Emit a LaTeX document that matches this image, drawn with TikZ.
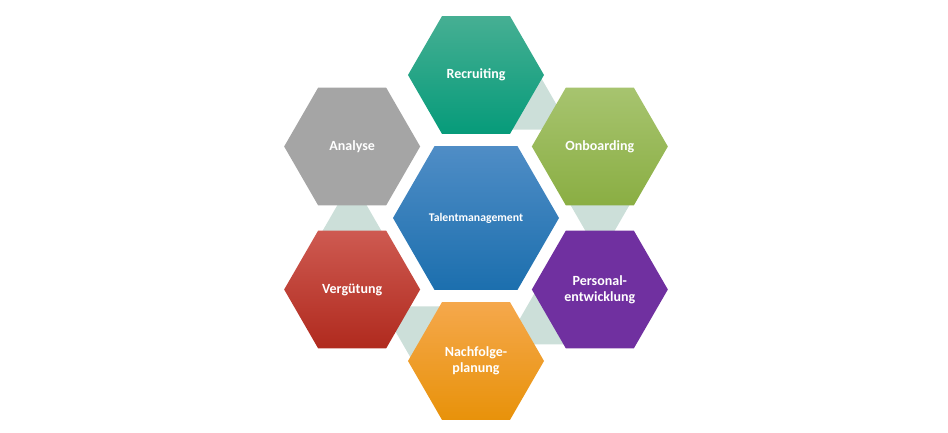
\documentclass[tikz,border=0pt]{standalone}
\usepackage{fontspec}
\setmainfont{Carlito}
\usetikzlibrary{shapes.geometric,calc}
\definecolor{recrtop}{HTML}{46AF93}
\definecolor{recrmid}{HTML}{10A283}
\definecolor{recrbot}{HTML}{069B7A}
\definecolor{onbtop}{HTML}{A7C46F}
\definecolor{onbmid}{HTML}{9BBB58}
\definecolor{onbbot}{HTML}{8AAE43}
\definecolor{analgrey}{HTML}{A5A5A5}
\definecolor{taltop}{HTML}{4F8DC6}
\definecolor{talmid}{HTML}{2A80C0}
\definecolor{talbot}{HTML}{1C6FAE}
\definecolor{vergtop}{HTML}{CE5A51}
\definecolor{vergmid}{HTML}{C0382B}
\definecolor{vergbot}{HTML}{B02A1E}
\definecolor{perspurple}{HTML}{7030A0}
\definecolor{nachtop}{HTML}{F5A84C}
\definecolor{nachmid}{HTML}{FDA20C}
\definecolor{nachbot}{HTML}{E8920A}
\definecolor{tricolor}{HTML}{CCDFD9}

\begin{document}
\begin{tikzpicture}[x=0.75pt,y=0.75pt,
    hexa/.style={regular polygon, regular polygon sides=6, inner sep=0pt, outer sep=0pt, minimum size=102pt, text=white, align=center, font=\fontsize{10.5}{12}\selectfont\bfseries},
    tri/.style={regular polygon, regular polygon sides=3, inner sep=0pt, outer sep=0pt, minimum size=57.2pt, fill=tricolor}]

    \useasboundingbox (-476,-214) rectangle (472,218);

    \coordinate (M) at (0,0);
    \node[tri] (RO) at ($(M)+(60:124)$) {};
    \node[tri,shape border rotate=180] (OP) at ($(M)+(0:124)$) {};
    \node[tri] (PN) at ($(M)+(-60:124)$) {};
    \node[tri,shape border rotate=180] (NV) at ($(M)+(-120:124)$) {};
    \node[tri] (VA) at ($(M)+(180:124)$) {};

    \node[hexa,minimum size=124.5pt,top color=taltop,middle color=talmid,bottom color=talbot,font=\fontsize{8.8}{10}\selectfont\bfseries] (T) at (M) {Talentmanagement};
    \node[hexa,top color=recrtop,middle color=recrmid,bottom color=recrbot] (R) at ($(T)+(90:143)$) {Recruiting};
    \node[hexa,top color=onbtop,middle color=onbmid,bottom color=onbbot] (O) at ($(T)+(30:143)$) {Onboarding};
    \node[hexa,fill=perspurple] (P) at ($(T)+(-30:143)$) {Personal-\\entwicklung};
    \node[hexa,top color=nachtop,middle color=nachmid,bottom color=nachbot] (N) at ($(T)+(-90:143)$) {Nachfolge-\\planung};
    \node[hexa,top color=vergtop,middle color=vergmid,bottom color=vergbot] (V) at ($(T)+(-150:143)$) {Vergütung};
    \node[hexa,fill=analgrey] (A) at ($(T)+(150:143)$) {Analyse};
\end{tikzpicture}
\end{document}
